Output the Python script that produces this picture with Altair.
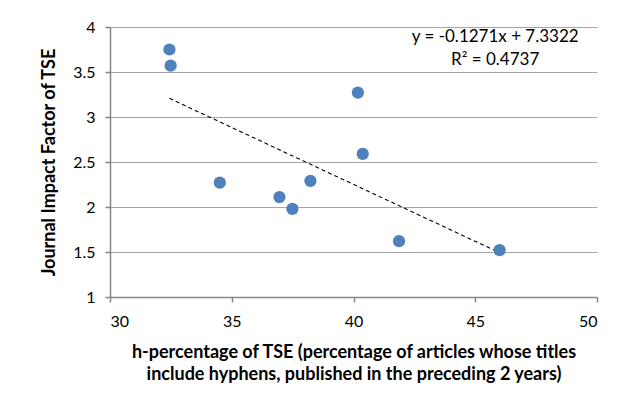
import altair as alt
import pandas as pd

h_percentage = [32.44, 32.49, 34.51, 36.96, 37.49, 38.23, 40.18, 40.38, 41.87, 46.0]
impact_factor = [3.75, 3.57, 2.27, 2.11, 1.98, 2.29, 3.27, 2.59, 1.62, 1.52]
equation_lines = ["y = -0.1271x + 7.3322", "R² = 0.4737"]
x_ticks = [30, 35, 40, 45, 50]
y_ticks = [1, 1.5, 2, 2.5, 3, 3.5, 4]

df = pd.DataFrame({"h": h_percentage, "jif": impact_factor})
ann = pd.DataFrame({"x": [45.82, 45.82], "y": [3.89, 3.63], "t": equation_lines})

FONT = "Lato"

x_enc = alt.X("h:Q", scale=alt.Scale(domain=[30, 50], nice=False, zero=False),
              axis=alt.Axis(values=x_ticks, grid=False, format="~g",
                            title=["h-percentage of TSE (percentage of articles whose titles",
                                   "include hyphens, published in the preceding 2 years)"]))
y_enc = alt.Y("jif:Q", scale=alt.Scale(domain=[1, 4], nice=False, zero=False),
              axis=alt.Axis(values=y_ticks, grid=True, format="~g",
                            title="Journal Impact Factor of TSE"))

points = alt.Chart(df).mark_circle(size=150, color="#4F81BD", opacity=1).encode(x=x_enc, y=y_enc)

trend = alt.Chart(df).transform_regression("h", "jif").mark_line(
    color="black", strokeWidth=1.1, strokeDash=[4, 3]
).encode(x="h:Q", y="jif:Q")

text = alt.Chart(ann).mark_text(font=FONT, fontSize=17, color="black", align="center").encode(
    x="x:Q", y="y:Q", text="t:N"
)

chart = alt.layer(trend, points, text).properties(
    width=487, height=270,
    autosize=alt.AutoSizeParams(type="none"),
    padding={"left": 102, "top": 19, "right": 10, "bottom": 90},
).configure_view(stroke=None).configure_axis(
    labelFont=FONT, labelFontSize=16, labelColor="black",
    titleFont=FONT, titleFontSize=18, titleFontWeight="bold", titleColor="black",
    domainColor="#868686", tickColor="#868686", gridColor="#a6a6a6",
    tickSize=5, domainWidth=1.5, tickWidth=1.5, gridWidth=1.2,
).configure_axisX(labelPadding=11, titlePadding=14, titleLineHeight=22
).configure_axisY(labelPadding=10, titlePadding=14)

chart.save("out.html", embed_options={"renderer": "svg", "actions": False})
